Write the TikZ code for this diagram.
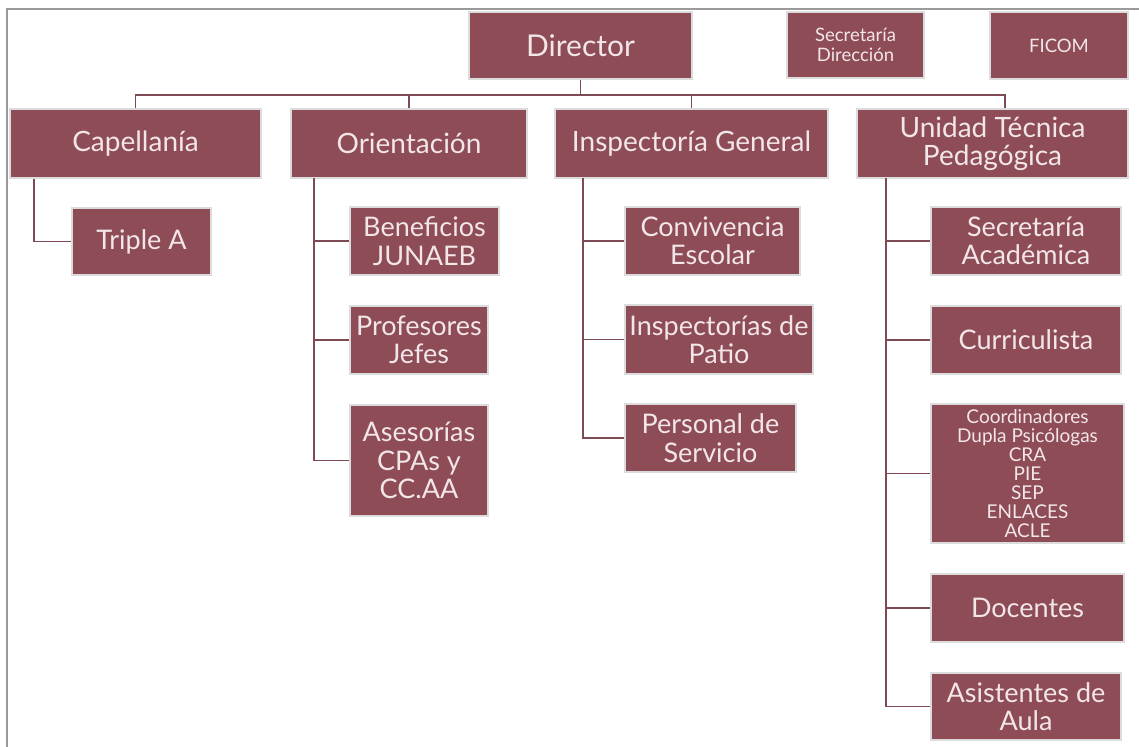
\documentclass[tikz,border=0pt]{standalone}
\usepackage{fontspec}
\setmainfont{Lato}
\definecolor{boxfill}{HTML}{8E4C57}
\definecolor{boxtext}{HTML}{F3E6E8}
\definecolor{linecol}{HTML}{7E4A53}
\definecolor{framecol}{HTML}{9A9A9A}
\definecolor{boxedge}{HTML}{DCDCDC}
\begin{document}
\begin{tikzpicture}[x=1pt,y=-1pt,
  orgbox/.style={rectangle, fill=boxfill, draw=boxedge, line width=1.2pt, text=boxtext, align=center, inner sep=0pt},
  bigtxt/.style={font=\fontsize{30}{32}\selectfont},
  midtxt/.style={font=\fontsize{28}{28}\selectfont},
  kidtxt/.style={font=\fontsize{27}{28.5}\selectfont},
  smalltxt/.style={font=\fontsize{18.5}{20}\selectfont},
  listtxt/.style={font=\fontsize{19}{19}\selectfont},
  link/.style={draw=linecol, line width=1.6pt}]
\useasboundingbox (0,0) rectangle (1139,746);
\draw[framecol, line width=1.5pt] (7,760) -- (7,9) -- (1145,9);

% top row
\node[orgbox,bigtxt,minimum width=223,minimum height=67] (dir) at (580.5,45.5) {Director};
\node[orgbox,smalltxt,minimum width=137,minimum height=66] (secd) at (855.5,45) {Secretaría\\Dirección};
\node[orgbox,smalltxt,minimum width=138,minimum height=67] (ficom) at (1059,45.5) {FICOM};

% second row
\node[orgbox,midtxt,minimum width=251,minimum height=69] (cap) at (135.5,143.5) {Capellanía};
\node[orgbox,midtxt,minimum width=236,minimum height=69] (ori) at (409,143.5) {Orientación};
\node[orgbox,midtxt,minimum width=273,minimum height=69] (insp) at (691.5,143.5) {Inspectoría General};
\node[orgbox,midtxt,minimum width=271,minimum height=69] (utp) at (992.5,143.5) {Unidad Técnica\\Pedagógica};

\coordinate (bus) at (580.5,95);
\draw[link] (dir.south) -- (bus);
\draw[link] (cap.north) |- (bus);
\draw[link] (ori.north) |- (bus);
\draw[link] (bus) -| (insp.north);
\draw[link] (bus) -| ([xshift=12.5pt]utp.north);

% Capellania child
\node[orgbox,kidtxt,minimum width=139,minimum height=67] (trip) at (141.5,241.5) {Triple A};
\draw[link] ([xshift=-101.5pt]cap.south) |- (trip.west);

% Orientacion children
\node[orgbox,kidtxt,minimum width=149,minimum height=68] (benef) at (424.5,241) {Beneficios\\JUNAEB};
\node[orgbox,kidtxt,minimum width=138,minimum height=68] (prof) at (419,340) {Profesores\\Jefes};
\node[orgbox,kidtxt,minimum width=138,minimum height=111] (ases) at (419,460.5) {Asesorías\\CPAs y\\CC.AA};
\coordinate (ov) at (314,178);
\draw[link] (ov) |- (ases.west);
\draw[link] (ov |- benef.west) -- (benef.west);
\draw[link] (ov |- prof.west) -- (prof.west);

% Inspectoria children
\node[orgbox,kidtxt,minimum width=175,minimum height=68] (conv) at (712.5,241) {Convivencia\\Escolar};
\node[orgbox,kidtxt,minimum width=188,minimum height=69] (ipat) at (719,339.5) {Inspectorías de\\Patio};
\node[orgbox,kidtxt,minimum width=171,minimum height=68] (pers) at (710.5,438) {Personal de\\Servicio};
\coordinate (iv) at (583,178);
\draw[link] (iv) |- (pers.west);
\draw[link] (iv |- conv.west) -- (conv.west);
\draw[link] (iv |- ipat.west) -- (ipat.west);

% UTP children
\node[orgbox,kidtxt,minimum width=190,minimum height=68] (seca) at (1026,241) {Secretaría\\Académica};
\node[orgbox,kidtxt,minimum width=190,minimum height=68] (curr) at (1026,340) {Curriculista};
\node[orgbox,listtxt,minimum width=193,minimum height=139] (coord) at (1027.5,473.5) {Coordinadores\\Dupla Psicólogas\\CRA\\PIE\\SEP\\ENLACES\\ACLE};
\node[orgbox,kidtxt,minimum width=193,minimum height=68] (doc) at (1027.5,608) {Docentes};
\node[orgbox,kidtxt,minimum width=190,minimum height=67] (asis) at (1026,706.5) {Asistentes de\\Aula};
\coordinate (uv) at (886,178);
\draw[link] (uv) |- (asis.west);
\draw[link] (uv |- seca.west) -- (seca.west);
\draw[link] (uv |- curr.west) -- (curr.west);
\draw[link] (uv |- coord.west) -- (coord.west);
\draw[link] (uv |- doc.west) -- (doc.west);
\end{tikzpicture}
\end{document}
